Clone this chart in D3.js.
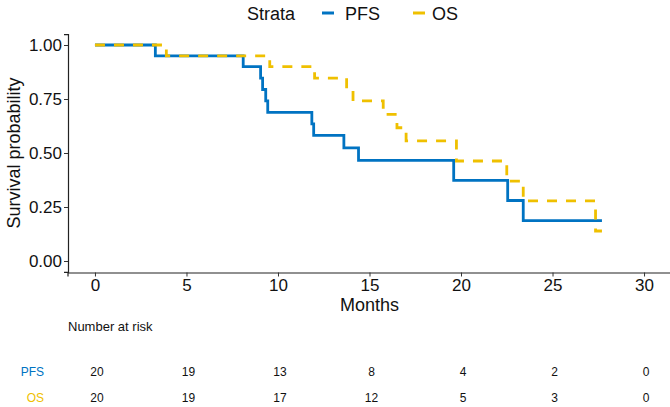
<!DOCTYPE html>
<html>
<head>
<meta charset="utf-8">
<script src="https://cdn.jsdelivr.net/npm/d3@7"></script>
<style>
  html, body { margin: 0; padding: 0; background: #fff; }
  svg { display: block; font-family: "Liberation Sans", Arial, sans-serif; }
</style>
</head>
<body>
<svg id="chart" width="670" height="407"></svg>
<script>
// ---- data ----
const strata = ["PFS", "OS"];
const colors = ["#0073C2", "#EFC000"];
const pfsTime = [0, 3.3, 8.1, 9.05, 9.16, 9.33, 9.44, 11.85, 11.95, 13.6, 14.4, 19.6, 22.55, 23.4, 27.7];
const pfsSurv = [1, 0.95, 0.90, 0.847, 0.794, 0.741, 0.688, 0.635, 0.582, 0.524, 0.466, 0.373, 0.280, 0.187, 0.187];
const osTime = [0, 3.9, 9.55, 12.0, 13.75, 14.1, 15.75, 16.5, 17.0, 19.75, 22.5, 23.4, 27.35, 27.7];
const osSurv = [1, 0.95, 0.90, 0.847, 0.794, 0.741, 0.679, 0.617, 0.556, 0.463, 0.370, 0.278, 0.139, 0.139];
const xTicks = [0, 5, 10, 15, 20, 25, 30];
const yTicks = [0, 0.25, 0.5, 0.75, 1];
const riskPFS = [20, 19, 13, 8, 4, 2, 0];
const riskOS = [20, 19, 17, 12, 5, 3, 0];

const svg = d3.select("#chart");
const x = d3.scaleLinear().domain([-1.5, 31.5]).range([67.5, 671.5]);
const y = d3.scaleLinear().domain([-0.05, 1.05]).range([271.8, 34.2]);

// axes
const xAxis = svg.append("g").attr("transform", "translate(0,272.5)")
  .call(d3.axisBottom(x).tickValues(xTicks).tickFormat(d3.format("d")).tickSizeOuter(0).tickSize(4).tickPadding(1));
const yAxis = svg.append("g").attr("transform", "translate(68,0)")
  .call(d3.axisLeft(y).tickValues(yTicks).tickFormat(d3.format(".2f")).tickSizeOuter(0).tickSize(4).tickPadding(2));
[xAxis, yAxis].forEach(a => {
  a.select(".domain").attr("stroke", "#222").attr("stroke-width", 1.2);
  a.selectAll(".tick line").attr("stroke", "#333");
  a.selectAll(".tick text").attr("fill", "#111").style("font-size", "17px").style("font-family", "Liberation Sans, Arial, sans-serif");
});
xAxis.selectAll(".tick text").attr("dy", "0.78em");
yAxis.selectAll(".tick text").attr("dy", "0.35em");

// axis titles
svg.append("text").attr("x", x(15)).attr("y", 311).attr("text-anchor", "middle")
  .style("font-size", "18px").attr("fill", "#111").text("Months");
svg.append("text").attr("transform", `translate(20,${y(0.5)}) rotate(-90)`).attr("text-anchor", "middle")
  .style("font-size", "18px").attr("fill", "#111").text("Survival probability");

// curves
const line = d3.line().x(d => x(d[0])).y(d => y(d[1])).curve(d3.curveStepAfter);
const pfsData = pfsTime.map((t, i) => [t, pfsSurv[i]]);
const osData = osTime.map((t, i) => [t, osSurv[i]]);
svg.append("path").datum(pfsData).attr("d", line).attr("fill", "none")
  .attr("stroke", colors[0]).attr("stroke-width", 2.8);
svg.append("path").datum(osData).attr("d", line).attr("fill", "none")
  .attr("stroke", colors[1]).attr("stroke-width", 2.8).attr("stroke-dasharray", "10,9");

// legend
svg.append("text").attr("x", 247).attr("y", 20).style("font-size", "18px").attr("fill", "#111").text("Strata");
const legX = [322, 413];
const legTextX = [345, 432];
strata.forEach((s, i) => {
  svg.append("line").attr("x1", legX[i]).attr("x2", legX[i] + 12).attr("y1", 13).attr("y2", 13)
    .attr("stroke", colors[i]).attr("stroke-width", 3);
  svg.append("text").attr("x", legTextX[i]).attr("y", 20).style("font-size", "18px").attr("fill", "#111").text(s);
});

// risk table
svg.append("text").attr("x", 68).attr("y", 331).style("font-size", "13px").attr("fill", "#111").text("Number at risk");
const rows = [riskPFS, riskOS];
const rowY = [376, 402];
rows.forEach((r, i) => {
  svg.append("text").attr("x", 44).attr("y", rowY[i]).attr("text-anchor", "end")
    .style("font-size", "12px").attr("fill", colors[i]).text(strata[i]);
  svg.selectAll(null).data(r).enter().append("text")
    .attr("x", (d, j) => x(xTicks[j]) + 2).attr("y", rowY[i]).attr("text-anchor", "middle")
    .style("font-size", "12px").attr("fill", "#111").text(d => d);
});
</script>
</body>
</html>
